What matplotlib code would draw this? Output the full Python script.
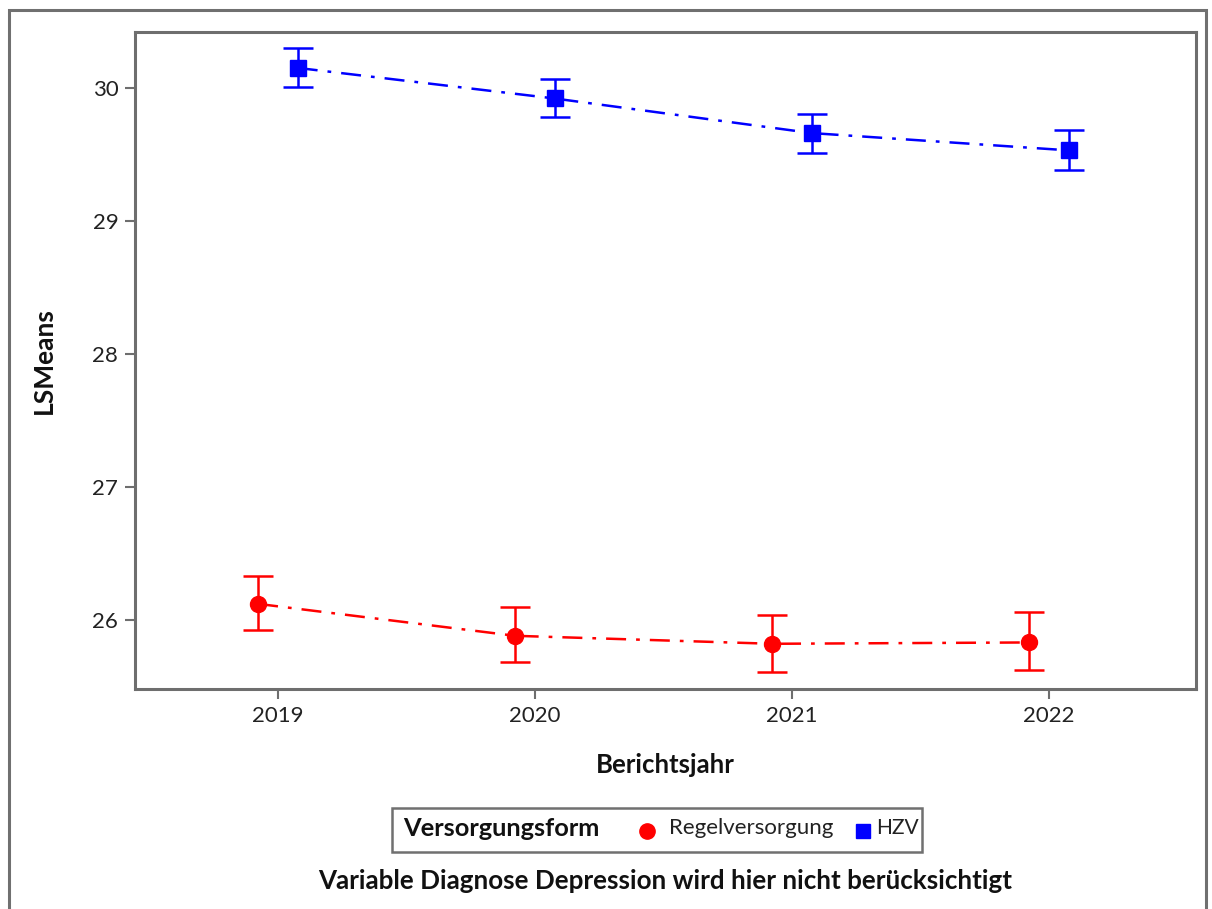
import matplotlib
matplotlib.use("Agg")
import matplotlib.pyplot as plt
from matplotlib.patches import Rectangle
from matplotlib.lines import Line2D

# LSMeans per report year with confidence limits
years = [2019, 2020, 2021, 2022]
regel_mean = [26.12, 25.88, 25.82, 25.83]
regel_lower = [25.92, 25.68, 25.61, 25.62]
regel_upper = [26.33, 26.10, 26.04, 26.06]
hzv_mean = [30.15, 29.92, 29.66, 29.53]
hzv_lower = [30.01, 29.78, 29.51, 29.38]
hzv_upper = [30.30, 30.07, 29.80, 29.68]
yticks = [26, 27, 28, 29, 30]

plt.rcParams["font.family"] = ["Lato", "DejaVu Sans"]

W, H = 1212, 909
fig = plt.figure(figsize=(W / 100, H / 100), dpi=100)

def fx(px):
    return px / W

def fy(py):
    return 1 - py / H

# outer frame
fig.patches.append(Rectangle((fx(9), fy(930)), fx(1206) - fx(9), fy(10) - fy(930),
                             transform=fig.transFigure, fill=False,
                             edgecolor="#707070", linewidth=2.2, clip_on=False))

ax = fig.add_axes([fx(135), fy(689), fx(1196) - fx(135), fy(32) - fy(689)])
ax.set_xlim(2018.444, 2022.572)
ax.set_ylim(25.48, 30.42)

spine_col = "#6e6e6e"
for s in ax.spines.values():
    s.set_color(spine_col)
    s.set_linewidth(2.2)

off = 0.077
x_r = [y - off for y in years]
x_h = [y + off for y in years]

red = "#ff0000"
blue = "#0000ff"

ax.plot(x_r, regel_mean, color=red, linestyle=(0, (8, 4, 1.5, 4)), linewidth=1.8, zorder=2)
ax.errorbar(x_r, regel_mean,
            yerr=[[m - l for m, l in zip(regel_mean, regel_lower)],
                  [u - m for m, u in zip(regel_mean, regel_upper)]],
            fmt="o", color=red, markersize=11.5, capsize=11, elinewidth=1.8,
            capthick=1.8, zorder=3)

ax.plot(x_h, hzv_mean, color=blue, linestyle=(0, (8, 4, 1.5, 4)), linewidth=1.8, zorder=2)
ax.errorbar(x_h, hzv_mean,
            yerr=[[m - l for m, l in zip(hzv_mean, hzv_lower)],
                  [u - m for m, u in zip(hzv_mean, hzv_upper)]],
            fmt="s", color=blue, markersize=11, capsize=11, elinewidth=1.8,
            capthick=1.8, zorder=3)

ax.set_xticks(years)
ax.set_xticklabels([str(y) for y in years])
ax.set_yticks(yticks)
ax.tick_params(axis="both", colors=spine_col, labelcolor="#222222", labelsize=16,
               length=7, width=1.5, pad=5)

ax.set_xlabel("Berichtsjahr", fontsize=18.5, fontweight="bold", color="#111111", labelpad=20)
ax.set_ylabel("LSMeans", fontsize=19, fontweight="bold", color="#111111", labelpad=26)

# legend box
fig.patches.append(Rectangle((fx(392), fy(852)), fx(922) - fx(392), fy(808) - fy(852),
                             transform=fig.transFigure, fill=False,
                             edgecolor="#707070", linewidth=1.8))
fig.text(fx(403), fy(829), "Versorgungsform", fontsize=18.3, fontweight="bold",
         color="#111111", va="center", ha="left")
fig.add_artist(Line2D([fx(647)], [fy(831)], marker="o", markersize=11,
                      color=red, transform=fig.transFigure, linestyle="none"))
fig.text(fx(669), fy(828), "Regelversorgung", fontsize=16, color="#222222",
         va="center", ha="left")
fig.add_artist(Line2D([fx(863)], [fy(831)], marker="s", markersize=10,
                      color=blue, transform=fig.transFigure, linestyle="none"))
fig.text(fx(876), fy(828), "HZV", fontsize=15, color="#222222",
         va="center", ha="left")

fig.text(fx(665), fy(881), "Variable Diagnose Depression wird hier nicht berücksichtigt",
         fontsize=18.7, fontweight="bold", color="#111111", va="center", ha="center")

fig.savefig("out.png", dpi=100)
